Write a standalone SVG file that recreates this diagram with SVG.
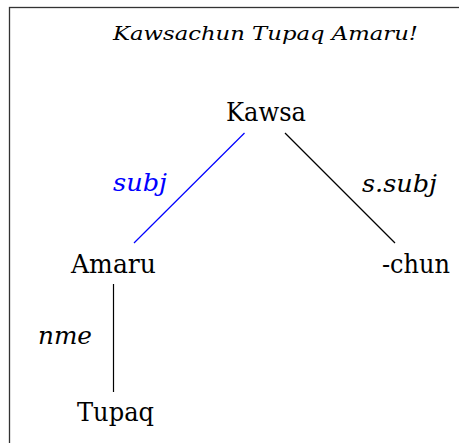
<svg xmlns="http://www.w3.org/2000/svg" width="459" height="443" viewBox="0 0 459 443">
<style>
text{font-family:'DejaVu Serif','Liberation Serif',serif}
.n{font-size:26px;fill:#000}
.l{font-size:24px;font-style:italic;fill:#000}
.t{font-size:19px;font-style:italic;fill:#000}
.e{stroke:#000;stroke-width:1.2;fill:none}
</style>
<rect x="9.5" y="7.5" width="470" height="460" fill="#fff" stroke="#333" stroke-width="1.3"/>
<text class="t" x="113" y="40" textLength="305" lengthAdjust="spacingAndGlyphs">Kawsachun Tupaq Amaru!</text>
<g id="edges">
<line x1="244.5" y1="133" x2="134" y2="243" stroke="#00f" stroke-width="1.2"/>
<line class="e" x1="285" y1="133" x2="395" y2="243"/>
<line class="e" x1="113.5" y1="284" x2="113.5" y2="392"/>
<text class="l" x="113" y="191" style="fill:#00f" textLength="54" lengthAdjust="spacingAndGlyphs">subj</text>
<text class="l" x="362" y="192" textLength="75" lengthAdjust="spacingAndGlyphs">s.subj</text>
<text class="l" x="38" y="344" textLength="54" lengthAdjust="spacingAndGlyphs">nme</text>
</g>
<g id="kawsa"><text class="n" x="226" y="121" textLength="80" lengthAdjust="spacingAndGlyphs">Kawsa</text></g>
<g id="amaru"><text class="n" x="71" y="273" textLength="85" lengthAdjust="spacingAndGlyphs">Amaru</text></g>
<g id="chun"><text class="n" x="382" y="273" textLength="68" lengthAdjust="spacingAndGlyphs">-chun</text></g>
<g id="tupaq"><text class="n" x="77" y="421" textLength="77" lengthAdjust="spacingAndGlyphs">Tupaq</text></g>
</svg>
